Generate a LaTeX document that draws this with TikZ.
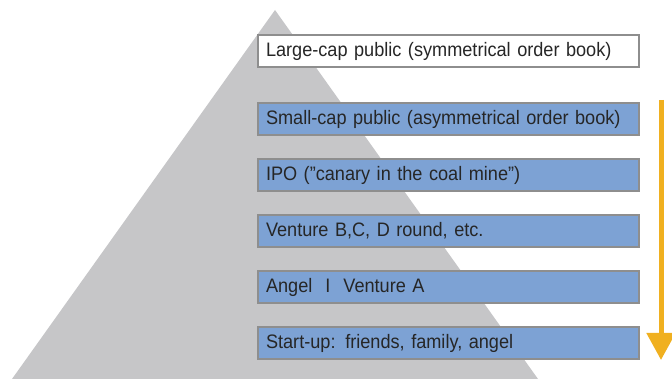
\documentclass[tikz,border=0pt]{standalone}
\usepackage{fontspec}
\setmainfont[FakeStretch=0.93]{Liberation Sans}
\usepackage{tikz}
\usetikzlibrary{positioning}
\usetikzlibrary{arrows.meta}
\definecolor{pyrgray}{HTML}{C6C6C8}
\definecolor{stageblue}{HTML}{7DA2D4}
\definecolor{stageedge}{HTML}{8E8E8E}
\definecolor{flowgold}{HTML}{F0B020}
\begin{document}
\begin{tikzpicture}[x=1pt,y=-1pt,node distance=22pt,
    stage/.style={draw=stageedge, line width=2pt, fill=stageblue, anchor=west,
        minimum width=381pt, minimum height=32pt, text width=365pt, align=left,
        inner xsep=8pt, inner ysep=3pt, text=black!85, font=\fontsize{19.5}{22}\selectfont}]
        \useasboundingbox (0,0) rectangle (672,379);
        \fill[pyrgray] (275,10) -- (538,379) -- (12,379) -- cycle;
		\node[stage, fill=white] (large) at (257,51) {Large-cap public (symmetrical order book)};
        \node[stage, below=34pt of large.south west, anchor=north west] (small) {Small-cap public (asymmetrical order book)};
        \node[stage, below=of small.south west, anchor=north west] (ipo) {IPO (”canary in the coal mine”)};
        \node[stage, below=of ipo.south west, anchor=north west] (venture) {Venture B,C, D round, etc.};
        \node[stage, below=of venture.south west, anchor=north west] (angel) {Angel \ I \ Venture A};
        \node[stage, below=of angel.south west, anchor=north west] (startup) {Start-up: friends, family, angel};
		%\node[stage, below=of startup] (seed) {};
        \coordinate[above right=2pt and 21pt of small.north east] (flowtop);
        \coordinate[right=21pt of startup.south east] (flowend);
		\draw[flowgold, line width=5pt, -{Triangle[width=28pt,length=27pt]}] (flowtop) -- (flowend);
	\end{tikzpicture}
\end{document}
